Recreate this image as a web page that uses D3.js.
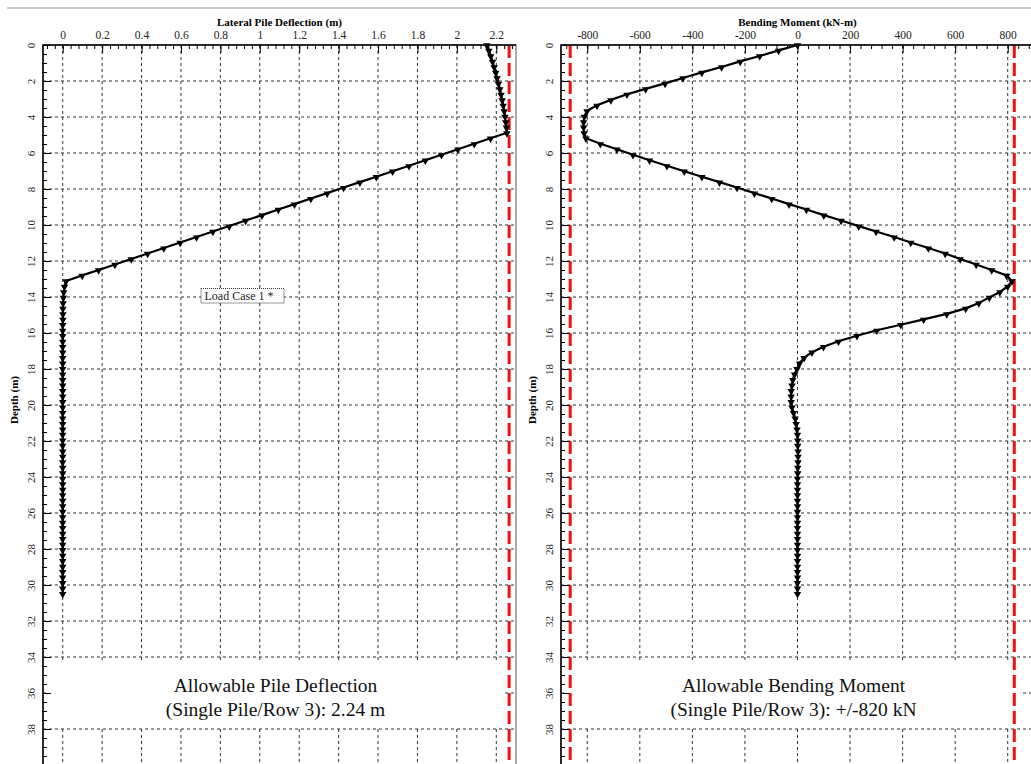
<!DOCTYPE html>
<html>
<head>
<meta charset="utf-8">
<script src="https://d3js.org/d3.v7.min.js"></script>
<style>
  body { margin: 0; background: #fff; }
  text { font-family: 'Liberation Serif', 'Times New Roman', serif; }
</style>
</head>
<body>
<svg width="1031" height="764"></svg>
<script>
// depth of each pile node (m)
const depth = [0, 0.30, 0.61, 0.91, 1.22, 1.52, 1.83, 2.13, 2.44, 2.74, 3.05, 3.35, 3.66, 3.96, 4.27, 4.57, 4.88,
  5.18, 5.49, 5.79, 6.10, 6.40, 6.71, 7.01, 7.32, 7.62, 7.92, 8.23, 8.53, 8.84, 9.14, 9.45, 9.75, 10.06, 10.36,
  10.67, 10.97, 11.28, 11.58, 11.89, 12.19, 12.50, 12.80, 13.11, 13.41, 13.72, 14.02, 14.33, 14.63, 14.94, 15.24,
  15.54, 15.85, 16.15, 16.46, 16.76, 17.07, 17.37, 17.68, 17.98, 18.29, 18.59, 18.90, 19.20, 19.51, 19.81, 20.12,
  20.42, 20.73, 21.03, 21.34, 21.64, 21.95, 22.25, 22.56, 22.86, 23.16, 23.47, 23.77, 24.08, 24.38, 24.69, 24.99,
  25.30, 25.60, 25.91, 26.21, 26.52, 26.82, 27.13, 27.43, 27.74, 28.04, 28.35, 28.65, 28.96, 29.26, 29.57, 29.87,
  30.18, 30.48];

// lateral deflection (m) at each node
const deflection = [2.152, 2.162, 2.172, 2.181, 2.189, 2.197, 2.204, 2.211, 2.218, 2.224, 2.230, 2.235, 2.240,
  2.244, 2.248, 2.251, 2.254, 2.171, 2.088, 2.005, 1.922, 1.840, 1.757, 1.674, 1.591, 1.508, 1.425, 1.342, 1.259,
  1.176, 1.094, 1.011, 0.928, 0.845, 0.762, 0.679, 0.596, 0.513, 0.431, 0.348, 0.265, 0.182, 0.099, 0.017,
  0.009, 0.005, 0.003, 0.002, 0.001, 0.001, 0.001, 0, 0, 0, 0, 0, 0, 0, 0, 0, 0, 0, 0, 0, 0, 0, 0, 0, 0, 0, 0,
  0, 0, 0, 0, 0, 0, 0, 0, 0, 0, 0, 0, 0, 0, 0, 0, 0, 0, 0, 0, 0, 0, 0, 0, 0, 0, 0, 0, 0, 0, 0];

// bending moment (kN-m) at each node
const moment = [0, -72, -144, -218, -289, -364, -436, -504, -578, -649, -710, -763, -801, -811, -814, -814, -812,
  -805, -750, -687, -626, -563, -497, -431, -364, -297, -230, -164, -98, -32, 34, 100, 166, 233, 299, 368, 431,
  498, 562, 619, 680, 739, 796, 816, 800, 770, 730, 690, 640, 568, 480, 393, 302, 226, 156, 99, 55, 25, 8, -2,
  -11, -18, -21, -24, -24, -24, -21, -15, -9, -5, -2, 0, 1, 1, 2, 2, 2, 1, 1, 0, 0, 0, 0, 0, 0, 0, 0, 0, 0, 0, 0,
  0, 0, 0, 0, 0, 0, 0, 0, 0, 0];

const deflTicks = [0, 0.2, 0.4, 0.6, 0.8, 1, 1.2, 1.4, 1.6, 1.8, 2, 2.2];
const momentTicks = [-800, -600, -400, -200, 0, 200, 400, 600, 800];
const depthTicks = [0, 2, 4, 6, 8, 10, 12, 14, 16, 18, 20, 22, 24, 26, 28, 30, 32, 34, 36, 38];
const deflLimits = [2.265];
const momentLimits = [-865, 825];

const svg = d3.select('svg');
const width = +svg.attr('width');
const height = +svg.attr('height');
const plotTop = 45;

// thin separator line at the very top
svg.append('line')
  .attr('x1', 7).attr('x2', width)
  .attr('y1', 8).attr('y2', 8)
  .attr('stroke', '#b8b8b8')
  .attr('stroke-width', 1.5);

const y = d3.scaleLinear().domain([0, 40]).range([plotTop, plotTop + 720]);

function drawPanel(cfg) {
  const x = d3.scaleLinear().domain(cfg.domain).range([cfg.left, cfg.right]);
  const g = svg.append('g');

  g.append('clipPath').attr('id', cfg.id)
    .append('rect')
      .attr('x', cfg.left).attr('y', plotTop)
      .attr('width', cfg.right - cfg.left).attr('height', 720);

  //grid lines
  g.selectAll('.vgrid')
    .data(cfg.ticks).enter()
    .append('line')
      .attr('x1', d => x(d)).attr('x2', d => x(d))
      .attr('y1', plotTop).attr('y2', y(40))
      .attr('stroke', '#333')
      .attr('stroke-dasharray', '3,3');
  g.selectAll('.hgrid')
    .data(depthTicks.filter(d => d > 0)).enter()
    .append('line')
      .attr('x1', cfg.left).attr('x2', cfg.right)
      .attr('y1', d => y(d)).attr('y2', d => y(d))
      .attr('stroke', '#333')
      .attr('stroke-dasharray', '3,3');

  //note with white background
  const note = g.append('g');
  const noteX = (cfg.left + cfg.right) / 2 - 4;
  note.append('rect')
    .attr('x', cfg.left + 3).attr('y', 661)
    .attr('width', cfg.right - cfg.left - 16).attr('height', 66)
    .attr('fill', '#fff');
  note.selectAll('text')
    .data(cfg.note).enter()
    .append('text')
      .attr('x', noteX)
      .attr('y', (d, i) => 692 + i * 23.5)
      .attr('text-anchor', 'middle')
      .style('font-size', '19.5px')
      .attr('fill', '#111')
      .text(d => d);

  //allowable limits
  g.selectAll('.limit')
    .data(cfg.limits).enter()
    .append('line')
      .attr('x1', d => x(d)).attr('x2', d => x(d))
      .attr('y1', plotTop).attr('y2', y(40))
      .attr('stroke', '#f01010')
      .attr('stroke-width', 3)
      .attr('stroke-dasharray', '13,5');

  //curve
  const pts = depth.map((d, i) => [x(cfg.values[i]), y(d)]);
  g.append('path')
    .attr('clip-path', `url(#${cfg.id})`)
    .attr('d', d3.line()(pts))
    .attr('fill', 'none')
    .attr('stroke', '#000')
    .attr('stroke-width', 2.2);
  g.selectAll('.marker')
    .data(pts).enter()
    .append('path')
      .attr('d', d3.symbol(d3.symbolTriangle).size(24))
      .attr('transform', p => `translate(${p[0]},${p[1] + 0.5}) rotate(180)`)
      .attr('fill', '#000');

  //top axis: minor then major ticks
  g.append('g')
    .attr('transform', `translate(0,${plotTop})`)
    .call(d3.axisTop(x).tickValues(cfg.minor).tickSize(-4).tickFormat(''))
    .call(a => a.select('.domain').remove());
  g.append('g')
    .attr('transform', `translate(0,${plotTop})`)
    .call(d3.axisTop(x).tickValues(cfg.ticks).tickSize(-8).tickPadding(6).tickFormat(d => String(d)))
    .call(a => a.select('.domain').remove())
    .call(a => a.selectAll('text').style('font-size', '11.5px').attr('fill', '#222'));

  //left axis
  g.append('g')
    .attr('transform', `translate(${cfg.left},0)`)
    .call(d3.axisLeft(y).tickValues(d3.range(0, 40.01, 0.5)).tickSize(-4).tickFormat(''))
    .call(a => a.select('.domain').remove());
  g.append('g')
    .attr('transform', `translate(${cfg.left},0)`)
    .call(d3.axisLeft(y).tickValues(depthTicks).tickSize(-8).tickFormat(d => String(d)))
    .call(a => a.select('.domain').remove())
    .call(a => a.selectAll('text')
      .attr('x', 0).attr('y', -8).attr('dy', 0)
      .attr('text-anchor', 'middle')
      .attr('transform', 'rotate(-90)')
      .style('font-size', '11px')
      .attr('fill', '#222'));

  //frame
  g.append('rect')
    .attr('x', cfg.left).attr('y', plotTop)
    .attr('width', cfg.right - cfg.left).attr('height', 720)
    .attr('fill', 'none')
    .attr('stroke', '#555');
  g.append('path')
    .attr('d', `M${cfg.left},${y(40)}V${plotTop}H${cfg.right}`)
    .attr('fill', 'none')
    .attr('stroke', '#000')
    .attr('stroke-width', 1.5);

  //titles
  g.append('text')
    .attr('x', (cfg.left + cfg.right) / 2)
    .attr('y', 26)
    .attr('text-anchor', 'middle')
    .style('font-size', '11px')
    .style('font-weight', 'bold')
    .text(cfg.title);
  g.append('text')
    .attr('transform', `translate(${cfg.left - 25},400) rotate(-90)`)
    .attr('text-anchor', 'middle')
    .style('font-size', '11px')
    .style('font-weight', 'bold')
    .text('Depth (m)');

  return x;
}

drawPanel({
  id: 'clipL', left: 43, right: 516, domain: [-0.1, 2.3],
  values: deflection, ticks: deflTicks, limits: deflLimits,
  minor: d3.range(-2, 58).map(i => i * 0.04),
  title: 'Lateral Pile Deflection (m)',
  note: ['Allowable Pile Deflection', '(Single Pile/Row 3): 2.24 m']
});

drawPanel({
  id: 'clipR', left: 561, right: 1034, domain: [-900, 900],
  values: moment, ticks: momentTicks, limits: momentLimits,
  minor: d3.range(-22, 23).map(i => i * 40),
  title: 'Bending Moment (kN-m)',
  note: ['Allowable Bending Moment', '(Single Pile/Row 3): +/-820 kN']
});

//legend box
const legend = svg.append('g');
legend.append('rect')
  .attr('x', 201).attr('y', 288.5)
  .attr('width', 83).attr('height', 14.5)
  .attr('fill', '#fff')
  .attr('stroke', '#333')
  .attr('stroke-dasharray', '1,1');
legend.append('text')
  .attr('x', 204.5).attr('y', 299.5)
  .style('font-size', '12px')
  .attr('fill', '#222')
  .text('Load Case 1 *');
</script>
</body>
</html>
